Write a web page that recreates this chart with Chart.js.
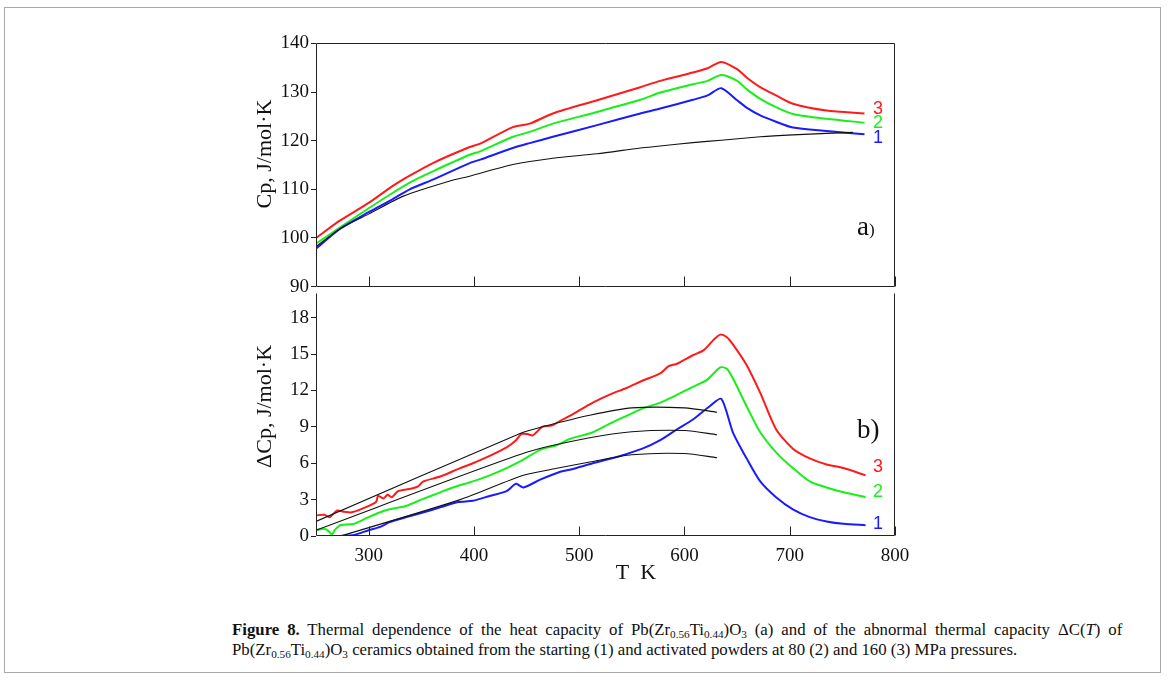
<!DOCTYPE html>
<html>
<head>
<meta charset="utf-8">
<script src="https://cdn.jsdelivr.net/npm/chart.js@4.4.1/dist/chart.umd.min.js"></script>
<style>
  html, body { margin: 0; padding: 0; background: #fff; }
  body { width: 1168px; height: 681px; position: relative; overflow: hidden; }
  #frame { position: absolute; left: 4px; top: 7px; width: 1157px; height: 666px; border: 1px solid #a8a8a8; box-sizing: border-box; }
  #top { position: absolute; left: 250px; top: 30px; }
  #bot { position: absolute; left: 250px; top: 280px; }
  #caption { position: absolute; left: 232px; top: 620px; font-family: "Liberation Serif", "DejaVu Serif", serif; font-size: 16.8px; line-height: 20px; color: #111; white-space: nowrap; }
  #caption .l1 { word-spacing: 3.7px; }
  #caption sub { font-size: 11.2px; vertical-align: -3px; line-height: 0; word-spacing: 0; }
</style>
</head>
<body>
<div id="frame"></div>
<canvas id="top" width="690" height="270"></canvas>
<canvas id="bot" width="690" height="320"></canvas>
<div id="caption"><div class="l1"><b>Figure 8.</b> Thermal dependence of the heat capacity of Pb(Zr<sub>0.56</sub>Ti<sub>0.44</sub>)O<sub>3</sub> (a) and of the abnormal thermal capacity ΔC(<i>T</i>) of</div><div>Pb(Zr<sub>0.56</sub>Ti<sub>0.44</sub>)O<sub>3</sub> ceramics obtained from the starting (1) and activated powders at 80 (2) and 160 (3) MPa pressures.</div></div>
<script>
// ---------- Panel (a): Cp, J/mol·K ----------
const cpT      = [250, 273, 300, 323, 339, 361, 396, 406, 437, 453, 475, 517, 558, 577, 608, 622, 635, 650, 659, 672, 687, 703, 735, 771];
const cpRed    = [100.0, 103.6, 107.2, 110.7, 112.8, 115.4, 118.7, 119.4, 122.8, 123.5, 125.6, 128.3, 131.0, 132.3, 134.0, 134.9, 136.2, 134.7, 133.0, 131.0, 129.3, 127.6, 126.2, 125.6];
const cpGreen  = [98.8, 102.2, 106.1, 109.3, 111.4, 113.7, 117.1, 117.8, 120.8, 121.8, 123.5, 125.9, 128.4, 129.9, 131.6, 132.3, 133.5, 132.3, 130.6, 128.6, 126.9, 125.5, 124.5, 123.7];
const cpBlue   = [97.8, 101.9, 105.3, 108.0, 110.0, 112.0, 115.4, 116.1, 118.5, 119.5, 120.8, 123.2, 125.6, 126.6, 128.4, 129.3, 130.8, 128.3, 126.8, 125.2, 123.9, 122.7, 122.0, 121.3];
const cpBaseT  = [250, 273, 300, 333, 377, 396, 437, 475, 517, 558, 577, 608, 635, 672, 703, 735, 760];
const cpBase   = [98.2, 101.9, 104.9, 108.6, 111.7, 112.7, 115.1, 116.4, 117.3, 118.5, 118.9, 119.6, 120.1, 120.8, 121.2, 121.5, 121.7];

// ---------- Panel (b): ΔCp, J/mol·K ----------
const dRedT    = [250, 258, 263, 270, 277, 284, 298, 307, 309, 314, 318, 322, 328, 340, 347, 352, 368, 387, 399, 415, 431, 440, 445, 451, 456, 465, 474, 482, 491, 513, 530, 545, 560, 577, 585, 593, 608, 618, 628, 634, 640, 646, 659, 672, 687, 703, 719, 735, 751, 772];
const dRed     = [1.7, 1.75, 1.55, 2.1, 2.0, 1.95, 2.4, 2.8, 3.3, 3.1, 3.4, 3.2, 3.7, 3.9, 4.1, 4.5, 4.9, 5.6, 6.0, 6.6, 7.3, 7.9, 8.4, 8.4, 8.3, 9.0, 9.1, 9.5, 9.9, 11.0, 11.7, 12.2, 12.8, 13.4, 14.0, 14.2, 14.9, 15.3, 16.2, 16.6, 16.4, 15.8, 14.1, 11.8, 8.8, 7.2, 6.4, 5.9, 5.6, 5.0];
const dGreenT  = [250, 258, 262, 265, 268, 273, 286, 300, 311, 320, 336, 350, 368, 380, 399, 415, 431, 447, 463, 479, 491, 513, 530, 545, 560, 577, 592, 608, 621, 634, 640, 646, 659, 672, 687, 703, 719, 735, 751, 772];
const dGreen   = [0.48, 0.6, 0.4, 0.13, 0.5, 0.89, 1.0, 1.56, 1.96, 2.2, 2.5, 3.0, 3.6, 4.0, 4.5, 5.0, 5.6, 6.3, 7.1, 7.5, 8.0, 8.55, 9.3, 9.9, 10.5, 11.0, 11.6, 12.3, 12.85, 13.9, 13.8, 13.0, 10.7, 8.55, 6.9, 5.6, 4.5, 4.0, 3.6, 3.2];
const dBlueT   = [268, 273, 286, 300, 311, 320, 336, 350, 368, 385, 399, 415, 431, 440, 447, 463, 482, 491, 513, 539, 560, 577, 593, 608, 624, 635, 646, 659, 672, 687, 703, 719, 735, 751, 772];
const dBlue    = [-0.2, 0.0, 0.08, 0.48, 0.75, 1.15, 1.56, 1.9, 2.36, 2.8, 2.9, 3.3, 3.7, 4.3, 4.0, 4.65, 5.3, 5.46, 6.0, 6.6, 7.2, 7.9, 8.8, 9.6, 10.7, 11.3, 8.55, 6.4, 4.5, 3.2, 2.2, 1.56, 1.2, 1.0, 0.89];
const fit3T    = [250, 445, 465, 510, 550, 600, 631];
const fit3     = [1.2, 8.5, 9.0, 9.95, 10.56, 10.56, 10.2];
const fit2T    = [250, 450, 510, 550, 600, 631];
const fit2     = [0.48, 6.9, 8.1, 8.6, 8.7, 8.35];
const fit1T    = [266, 387, 447, 480, 510, 550, 600, 631];
const fit1     = [-0.2, 3.0, 5.0, 5.6, 6.1, 6.7, 6.8, 6.45];

// axis ranges / ticks
const xRange   = [250, 800];
const xStep    = 100;
const cpRange  = [90, 140];
const cpStep   = 10;
const dRange   = [0, 20];
const dStep    = 3;

// series end labels (text, y value)
const labelsA  = [["3", 126.6], ["2", 123.6], ["1", 120.6]];
const labelsB  = [["3", 5.7], ["2", 3.6], ["1", 1.0]];

const RED = "#ff1a1a", GREEN = "#17f017", BLUE = "#1a1aff", BLACK = "#111";
const SERIF = "'Liberation Serif', 'DejaVu Serif', serif";
const SANS = "'Liberation Sans', Arial, sans-serif";

const pts = (xs, ys) => xs.map((x, i) => ({ x, y: ys[i] }));
const ds = (xs, ys, color, w) => ({
  data: pts(xs, ys), borderColor: color, borderWidth: w, pointRadius: 0,
  fill: false, tension: 0.25, cubicInterpolationMode: 'default'
});

const framePlugin = {
  id: 'frame',
  afterDraw(chart, args, o) {
    const { ctx, chartArea: a, scales } = chart;
    const x = scales.x, y = scales.y;
    ctx.save();
    ctx.strokeStyle = '#222';
    ctx.lineWidth = 1;
    const L = Math.round(a.left) + 0.5, R = Math.round(a.right) - 0.5;
    const T = Math.round(a.top) + 0.5, B = Math.round(a.bottom) - 0.5;
    ctx.beginPath();
    ctx.moveTo(L, T); ctx.lineTo(L, B); ctx.lineTo(R, B); ctx.lineTo(R, T);
    if (o.topLine) { ctx.lineTo(L, T); }
    ctx.stroke();
    ctx.beginPath();
    x.ticks.forEach(t => {
      const px = Math.round(x.getPixelForValue(t.value)) + 0.5;
      ctx.moveTo(px, B); ctx.lineTo(px, B - o.tickIn);
    });
    ctx.stroke();
    // series labels
    ctx.font = '18px ' + SANS;
    ctx.textAlign = 'left';
    ctx.textBaseline = 'middle';
    const cols = { "3": RED, "2": GREEN, "1": BLUE };
    o.labels.forEach(([txt, v]) => {
      ctx.fillStyle = cols[txt];
      ctx.fillText(txt, a.right - 22, y.getPixelForValue(v));
    });
    // panel letter
    ctx.fillStyle = '#111';
    ctx.textBaseline = 'alphabetic';
    ctx.font = '27px ' + SERIF;
    ctx.fillText(o.letter, a.right - 38, a.top + o.letterY);
    const w = ctx.measureText(o.letter).width;
    ctx.font = o.parenSize + 'px ' + SERIF;
    ctx.fillText(')', a.right - 38 + w, a.top + o.letterY);
    if (o.xTitle) {
      ctx.font = '22px ' + SERIF;
      ctx.textAlign = 'center';
      ctx.fillText(o.xTitle, a.left + 320, a.bottom + 43);
    }
    ctx.restore();
  }
};

function makeOpts(yMin, yMax, yStep, yTitle, showX, xHeight, padBottom, frameOpts) {
  return {
    responsive: false, animation: false,
    layout: { padding: { top: showX ? 8 : 12, right: 45, bottom: padBottom, left: 0 } },
    plugins: { legend: { display: false }, tooltip: { enabled: false }, frame: frameOpts },
    scales: {
      x: {
        type: 'linear', min: xRange[0], max: xRange[1],
        grid: { display: false, drawTicks: false },
        border: { display: false },
        ticks: { display: showX, stepSize: xStep, includeBounds: false, padding: 9, color: '#111', font: { family: SERIF, size: 19 } },
        afterFit(s) { s.height = xHeight; }
      },
      y: {
        type: 'linear', min: yMin, max: yMax,
        grid: { display: true, drawOnChartArea: false, drawTicks: true, tickLength: 5, color: '#222' },
        border: { display: false },
        ticks: { stepSize: yStep, includeBounds: false, padding: 2, color: '#111', font: { family: SERIF, size: 19 } },
        title: { display: true, text: yTitle, color: '#111', font: { family: SERIF, size: 22 }, padding: { top: 2, bottom: 0 } },
        afterFit(s) { s.width = 66; }
      }
    }
  };
}

new Chart(document.getElementById('top'), {
  type: 'line',
  data: { datasets: [
    ds(cpBaseT, cpBase, BLACK, 1.1),
    ds(cpT, cpBlue, BLUE, 2),
    ds(cpT, cpGreen, GREEN, 2),
    ds(cpT, cpRed, RED, 2)
  ] },
  options: makeOpts(cpRange[0], cpRange[1], cpStep, '    Cp, J/mol·K', false, 0, 12,
    { topLine: true, tickIn: 10, labels: labelsA, letter: 'a', parenSize: 17, letterY: 192 }),
  plugins: [framePlugin]
});

new Chart(document.getElementById('bot'), {
  type: 'line',
  data: { datasets: [
    ds(fit1T, fit1, BLACK, 1.1),
    ds(fit2T, fit2, BLACK, 1.1),
    ds(fit3T, fit3, BLACK, 1.1),
    ds(dBlueT, dBlue, BLUE, 2),
    ds(dGreenT, dGreen, GREEN, 2),
    ds(dRedT, dRed, RED, 2)
  ] },
  options: makeOpts(dRange[0], dRange[1], dStep, '   ΔCp, J/mol·K', true, 64, 0,
    { topLine: false, tickIn: 9, labels: labelsB, letter: 'b', parenSize: 27, letterY: 145, xTitle: 'T  K' }),
  plugins: [framePlugin]
});
</script>
</body>
</html>
